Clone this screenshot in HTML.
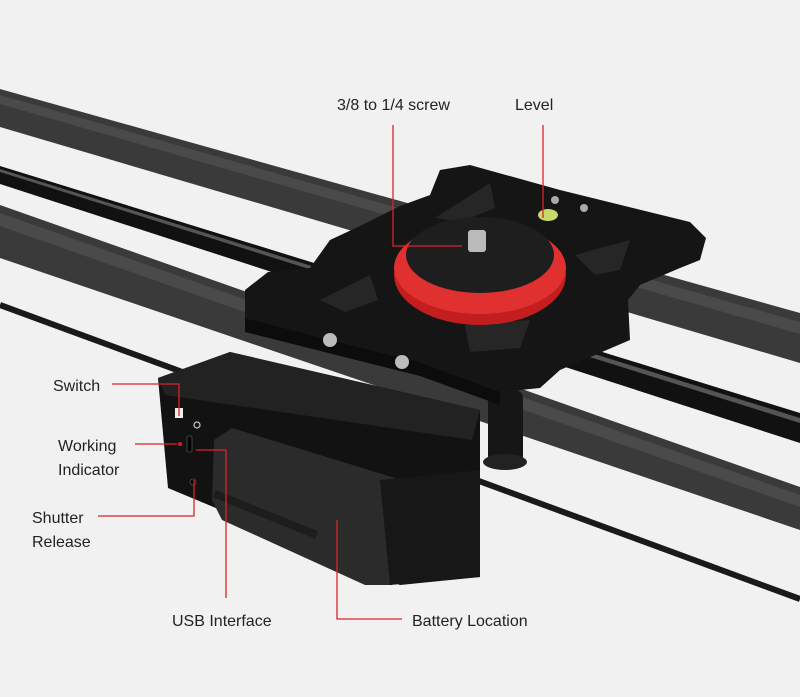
<!DOCTYPE html>
<html><head><style>
html,body{margin:0;padding:0;background:#f1f1f1;}
svg{display:block}
text{font-family:"Liberation Sans",sans-serif;font-size:16px;fill:#222}
</style></head><body>
<svg width="800" height="697" viewBox="0 0 800 697" xmlns="http://www.w3.org/2000/svg">
<rect width="800" height="697" fill="#f1f1f1"/>
<!-- belt -->
<line x1="0" y1="305" x2="800" y2="599" stroke="#1a1a1a" stroke-width="6"/>
<!-- top carbon rod -->
<polygon points="0,89 800,313 800,363 0,127" fill="#3a3a3a"/>
<polygon points="0,95 800,322 800,334 0,104" fill="#555" opacity="0.6"/>
<!-- thin rod -->
<polygon points="0,166 800,413 800,443 0,184" fill="#111"/>
<polygon points="0,169 800,418 800,423 0,172" fill="#555"/>
<!-- lower carbon rod -->
<polygon points="0,205 800,487 800,530 0,258" fill="#3a3a3a"/>
<polygon points="0,213 800,495 800,507 0,226" fill="#555" opacity="0.6"/>
<!-- foot under plate -->
<rect x="488" y="390" width="35" height="75" rx="8" fill="#161616"/>
<ellipse cx="505" cy="462" rx="22" ry="8" fill="#222"/>
<!-- plate -->
<polygon points="440,170 470,165 560,190 690,222 706,238 700,260 680,268 640,285 628,300 630,340 560,370 540,388 500,392 420,362 300,332 245,318 245,290 268,272 310,268 330,240 360,226 400,206 430,195" fill="#151515"/>
<polygon points="245,318 300,332 420,362 500,392 500,405 420,376 245,332" fill="#0c0c0c"/>
<!-- cutouts -->
<polygon points="435,218 490,183 495,208 460,222" fill="#262626"/>
<polygon points="320,300 370,275 378,300 345,312" fill="#262626"/>
<polygon points="575,255 630,240 620,270 595,275" fill="#262626"/>
<polygon points="465,325 530,320 520,348 470,352" fill="#262626"/>
<!-- level -->
<ellipse cx="548" cy="215" rx="10" ry="6" fill="#c8d96a"/>
<circle cx="555" cy="200" r="4" fill="#aaa"/><circle cx="584" cy="208" r="4" fill="#aaa"/>
<!-- dial -->
<ellipse cx="480" cy="275" rx="86" ry="50" fill="#c21e1e"/>
<ellipse cx="480" cy="268" rx="86" ry="46" fill="#e03030"/>
<ellipse cx="480" cy="255" rx="74" ry="38" fill="#1e1e1e"/>
<rect x="468" y="230" width="18" height="22" rx="3" fill="#bbb"/>
<!-- screws on top -->
<circle cx="330" cy="340" r="7" fill="#bbb"/><circle cx="402" cy="362" r="7" fill="#bbb"/>
<!-- control box -->
<polygon points="158,378 230,352 480,410 480,577 400,585 168,488" fill="#121212"/>
<polygon points="158,378 230,352 480,410 472,440 165,395" fill="#222"/>
<!-- battery -->
<polygon points="214,440 232,428 395,478 392,585 365,585 222,520 212,500" fill="#2b2b2b"/>
<polygon points="380,480 480,470 480,577 390,585" fill="#171717"/>
<rect x="216" y="490" width="110" height="8" fill="#1d1d1d" transform="rotate(22 216 490)"/>
<!-- buttons -->
<rect x="175" y="408" width="8" height="10" fill="#eee"/>
<circle cx="197" cy="425" r="3" fill="none" stroke="#ccc" stroke-width="1.2"/>
<circle cx="180" cy="444" r="2" fill="#c22"/>
<rect x="187" y="436" width="5" height="16" rx="2" fill="#000" stroke="#444"/>
<circle cx="193" cy="482" r="3" fill="#000" stroke="#444"/>
<!-- callout lines -->
<g stroke="#d9242a" stroke-width="1.3" fill="none">
<polyline points="393,125 393,246 462,246"/>
<polyline points="543,125 543,218"/>
<polyline points="112,384 179,384 179,416"/>
<polyline points="135,444 177,444"/>
<polyline points="98,516 194,516 194,480"/>
<polyline points="196,450 226,450 226,598"/>
<polyline points="337,520 337,619 402,619"/>
</g>
<text x="337" y="110">3/8 to 1/4 screw</text>
<text x="515" y="110">Level</text>
<text x="53" y="391">Switch</text>
<text x="58" y="451">Working</text>
<text x="58" y="475">Indicator</text>
<text x="32" y="523">Shutter</text>
<text x="32" y="547">Release</text>
<text x="172" y="626">USB Interface</text>
<text x="412" y="626">Battery Location</text>
</svg>
</body></html>
